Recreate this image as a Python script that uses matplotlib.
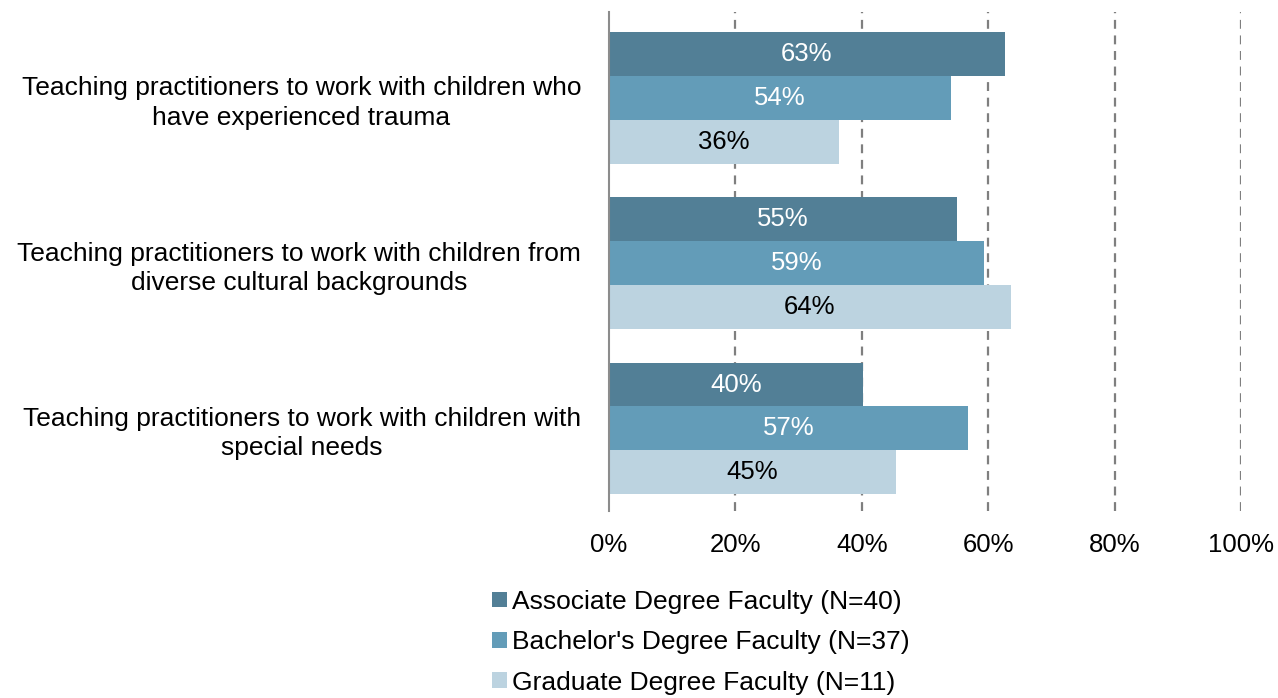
import matplotlib.pyplot as plt
import numpy as np

plt.rcParams['font.family'] = ['Liberation Sans', 'DejaVu Sans']

categories = [
    "Teaching practitioners to work with children who\nhave experienced trauma",
    "Teaching practitioners to work with children from\ndiverse cultural backgrounds",
    "Teaching practitioners to work with children with\nspecial needs",
]
series_names = [
    "Associate Degree Faculty (N=40)",
    "Bachelor's Degree Faculty (N=37)",
    "Graduate Degree Faculty (N=11)",
]
associate = [62.6, 55.0, 40.2]
bachelor = [54.1, 59.4, 56.8]
graduate = [36.4, 63.6, 45.4]
series_values = [associate, bachelor, graduate]

colors = ["#527f96", "#639cb8", "#bcd3e0"]
label_colors = ["white", "white", "black"]

fig = plt.figure(figsize=(12.78, 6.98), dpi=100)
ax = fig.add_axes([0.4765, 0.268, 0.4945, 0.7148])

y = np.arange(len(categories))
h = 0.265
handles = []
for i, (vals, col, tcol, name) in enumerate(zip(series_values, colors, label_colors, series_names)):
    pos = y + (i - 1) * h
    bars = ax.barh(pos, vals, height=h, color=col, label=name, zorder=2)
    handles.append(bars)
    for b, v in zip(bars, vals):
        ax.text(v / 2, b.get_y() + h / 2, f"{v:.0f}%", ha="center", va="center",
                color=tcol, fontsize=18.5, zorder=3)

ax.set_xlim(0, 100)
ax.set_ylim(len(categories) - 0.5, -0.52)
ax.set_xticks(range(0, 101, 20))
ax.set_xticklabels([f"{t}%" for t in range(0, 101, 20)], fontsize=18.5)
ax.set_yticks(y)
ax.set_yticklabels(categories, fontsize=19)
for lbl in ax.get_yticklabels():
    lbl.set_multialignment("center")
    lbl.set_linespacing(1.28)
ax.tick_params(axis="both", length=0)
ax.tick_params(axis="x", pad=16)
ax.tick_params(axis="y", pad=20)

for x in range(20, 101, 20):
    ax.axvline(x, color="#7f7f7f", linestyle=(0, (4, 3)), linewidth=1.6, zorder=1)

for s in ["top", "right", "bottom"]:
    ax.spines[s].set_visible(False)
ax.spines["left"].set_color("#8c8c8c")
ax.spines["left"].set_linewidth(1.5)

fig.legend(handles=handles, labels=series_names, loc="upper left",
           bbox_to_anchor=(0.385, 0.155), frameon=False, fontsize=19,
           handlelength=0.55, handleheight=0.55, handletextpad=0.2,
           labelspacing=0.62, borderaxespad=0, borderpad=0)

fig.savefig("out.png", dpi=100)
